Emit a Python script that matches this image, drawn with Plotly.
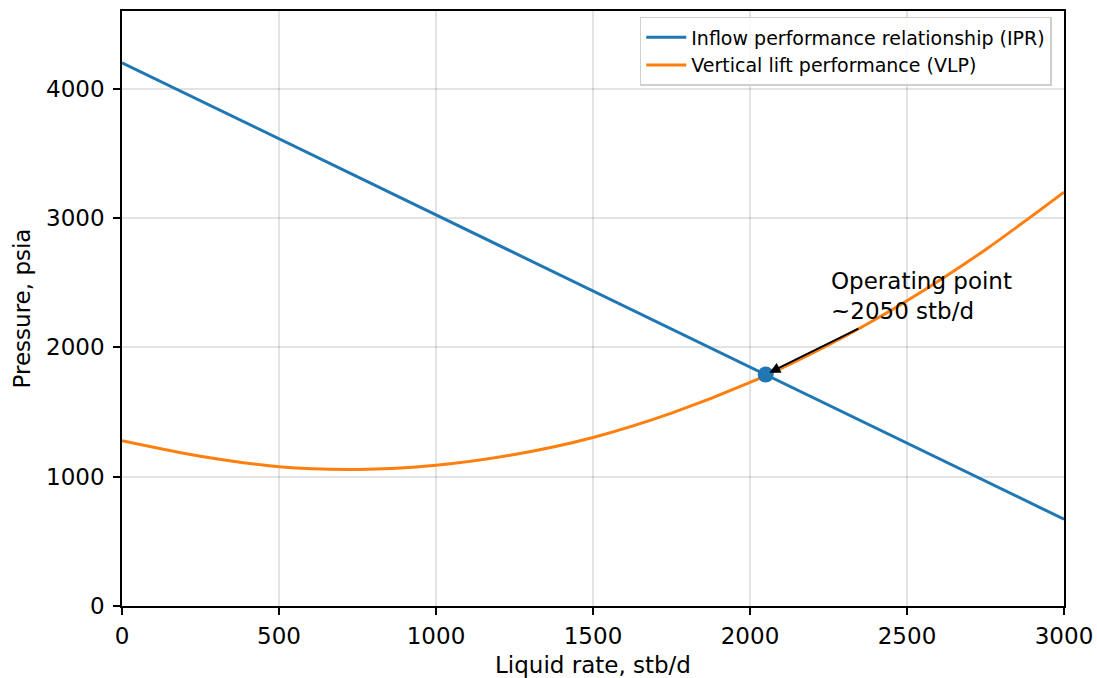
import plotly.graph_objects as go

# Nodal analysis: inflow (IPR) vs. vertical lift (VLP) curves
ipr_rate = [0, 500, 1000, 1500, 2000, 2500, 3000]          # stb/d
ipr_pressure = [4200, 3612, 3024, 2435, 1847, 1259, 671]    # psia

vlp_rate = [0, 250, 500, 750, 1000, 1250, 1500, 1750, 2000, 2250, 2500, 2750, 3000]
vlp_pressure = [1278, 1158, 1077, 1056, 1088, 1171, 1303, 1491, 1728, 2018, 2360, 2755, 3200]

op_rate = 2050        # stb/d
op_pressure = 1790    # psia

BLUE = "#1f77b4"
ORANGE = "#ff7f0e"
FONT = "DejaVu Sans"
TEXT_SIZE = 23

fig = go.Figure()
fig.add_trace(go.Scatter(
    x=ipr_rate, y=ipr_pressure, mode="lines",
    name="Inflow performance relationship (IPR)",
    line=dict(color=BLUE, width=3),
))
fig.add_trace(go.Scatter(
    x=vlp_rate, y=vlp_pressure, mode="lines",
    name="Vertical lift performance (VLP)",
    line=dict(color=ORANGE, width=3, shape="spline", smoothing=0.8),
))
fig.add_trace(go.Scatter(
    x=[op_rate], y=[op_pressure], mode="markers",
    marker=dict(color=BLUE, size=16), showlegend=False,
))

# arrow pointing at the operating point
fig.add_annotation(
    x=op_rate, y=op_pressure, xref="x", yref="y",
    ax=2350, ay=2150, axref="x", ayref="y",
    text="", showarrow=True, arrowhead=2, arrowsize=1.1,
    arrowwidth=2, arrowcolor="black", standoff=4,
)
fig.add_annotation(
    x=2250, y=2395, xref="x", yref="y",
    text=f"Operating point<br>~{op_rate} stb/d",
    showarrow=False, xanchor="left", yanchor="middle", align="left",
    font=dict(family=FONT, size=TEXT_SIZE, color="black"),
)

axis_common = dict(
    showline=True, linecolor="black", linewidth=1.5, mirror=True,
    ticks="outside", ticklen=7, tickwidth=1.5, tickcolor="black",
    showgrid=True, gridcolor="rgba(0,0,0,0.11)", gridwidth=1.5,
    zeroline=False, automargin=False,
    tickfont=dict(family=FONT, size=TEXT_SIZE, color="black"),
)

fig.update_xaxes(
    range=[0, 3000], tickvals=[0, 500, 1000, 1500, 2000, 2500, 3000],
    title=dict(text="Liquid rate, stb/d", font=dict(family=FONT, size=TEXT_SIZE, color="black"), standoff=10),
    ticklabelstandoff=2,
    **axis_common,
)
fig.update_yaxes(
    range=[0, 4600], tickvals=[0, 1000, 2000, 3000, 4000],
    title=dict(text="Pressure, psia", font=dict(family=FONT, size=TEXT_SIZE, color="black"), standoff=9),
    ticklabelstandoff=4,
    **axis_common,
)

fig.update_layout(
    width=1097, height=678,
    margin=dict(l=122, r=33, t=11, b=72),
    plot_bgcolor="white", paper_bgcolor="white",
    font=dict(family=FONT, color="black"),
    legend=dict(
        x=0.987, y=0.99, xanchor="right", yanchor="top",
        bgcolor="rgba(255,255,255,0.85)", bordercolor="#cfcfcf", borderwidth=1.5,
        font=dict(family=FONT, size=19, color="black"),
        tracegroupgap=0, itemwidth=40,
    ),
)

fig.write_html("out.html")
